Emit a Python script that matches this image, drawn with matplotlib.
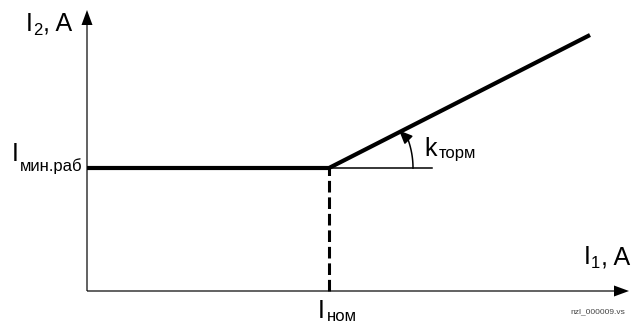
import numpy as np
import matplotlib
matplotlib.use("Agg")
import matplotlib.pyplot as plt

plt.rcParams["font.family"] = ["Liberation Sans", "DejaVu Sans"]

# characteristic (schematic units, origin at the axes crossing)
i1_char = [0, 242, 503]      # I1: start, knee (I_ном), end
i2_char = [123, 123, 256]    # I2: I_мин.раб plateau, then braking slope
ref_end = 345                # end of thin horizontal reference line
arc_r = 84
arc_deg = [0, 25]

X_MAX = 542
Y_MAX = 281

fig = plt.figure(figsize=(6.33, 3.25), dpi=100)
ax = fig.add_axes([0, 0, 1, 1])
ax.set_xlim(-87, 546)
ax.set_ylim(-34, 291)
ax.axis("off")

# axes with arrowheads
ax.arrow(0, 0, X_MAX, 0, width=1.2, head_width=11, head_length=15,
         length_includes_head=True, fc="black", ec="black", lw=0)
ax.arrow(0, 0, 0, Y_MAX, width=1.2, head_width=11, head_length=15,
         length_includes_head=True, fc="black", ec="black", lw=0)

# thick characteristic
ax.plot(i1_char, i2_char, color="black", lw=3.0, solid_capstyle="butt",
        solid_joinstyle="miter")
# thin reference line from knee
ax.plot([i1_char[1], ref_end], [i2_char[1], i2_char[1]], color="black", lw=1.1)
# dashed drop from knee to I1 axis
ax.plot([i1_char[1], i1_char[1]], [0, i2_char[1]], color="black", lw=2.2,
        dashes=(3.8, 1.6))

# angle arc with arrow
t = np.radians(np.linspace(arc_deg[0], arc_deg[1] - 4, 40))
ax.plot(i1_char[1] + arc_r * np.cos(t), i2_char[1] + arc_r * np.sin(t),
        color="black", lw=1.1)
a0, a1 = np.radians(arc_deg[1] - 5), np.radians(arc_deg[1])
ax.annotate("", xy=(i1_char[1] + arc_r * np.cos(a1) - 6, i2_char[1] + arc_r * np.sin(a1) + 2),
            xytext=(i1_char[1] + arc_r * np.cos(a0), i2_char[1] + arc_r * np.sin(a0)),
            arrowprops=dict(arrowstyle="-|>,head_length=0.8,head_width=0.35",
                            color="black", lw=1.1, shrinkA=0, shrinkB=0))

fs = 18
sub = 12

# labels
ax.text(-61, 260, "I", fontsize=fs, ha="left", va="baseline")
ax.text(-54, 256, "2", fontsize=sub, ha="left", va="baseline")
ax.text(-44, 260, ", A", fontsize=fs, ha="left", va="baseline")

ax.text(-75, 130, "I", fontsize=fs, ha="left", va="baseline")
ax.text(-67, 120, "мин.раб", fontsize=sub, ha="left", va="baseline")

ax.text(337, 135, "k", fontsize=fs, ha="left", va="baseline")
ax.text(352, 133, "торм", fontsize=sub, ha="left", va="baseline")

ax.text(497, 27, "I", fontsize=fs, ha="left", va="baseline")
ax.text(504, 23, "1", fontsize=sub, ha="left", va="baseline")
ax.text(514, 27, ", A", fontsize=fs, ha="left", va="baseline")

ax.text(231, -27, "I", fontsize=fs, ha="left", va="baseline")
ax.text(240, -30, "ном", fontsize=sub, ha="left", va="baseline")

ax.text(538, -21, "nzl_000009.vs", fontsize=6, color="#444444",
        ha="right", va="center")

fig.savefig("out.png", dpi=100)
